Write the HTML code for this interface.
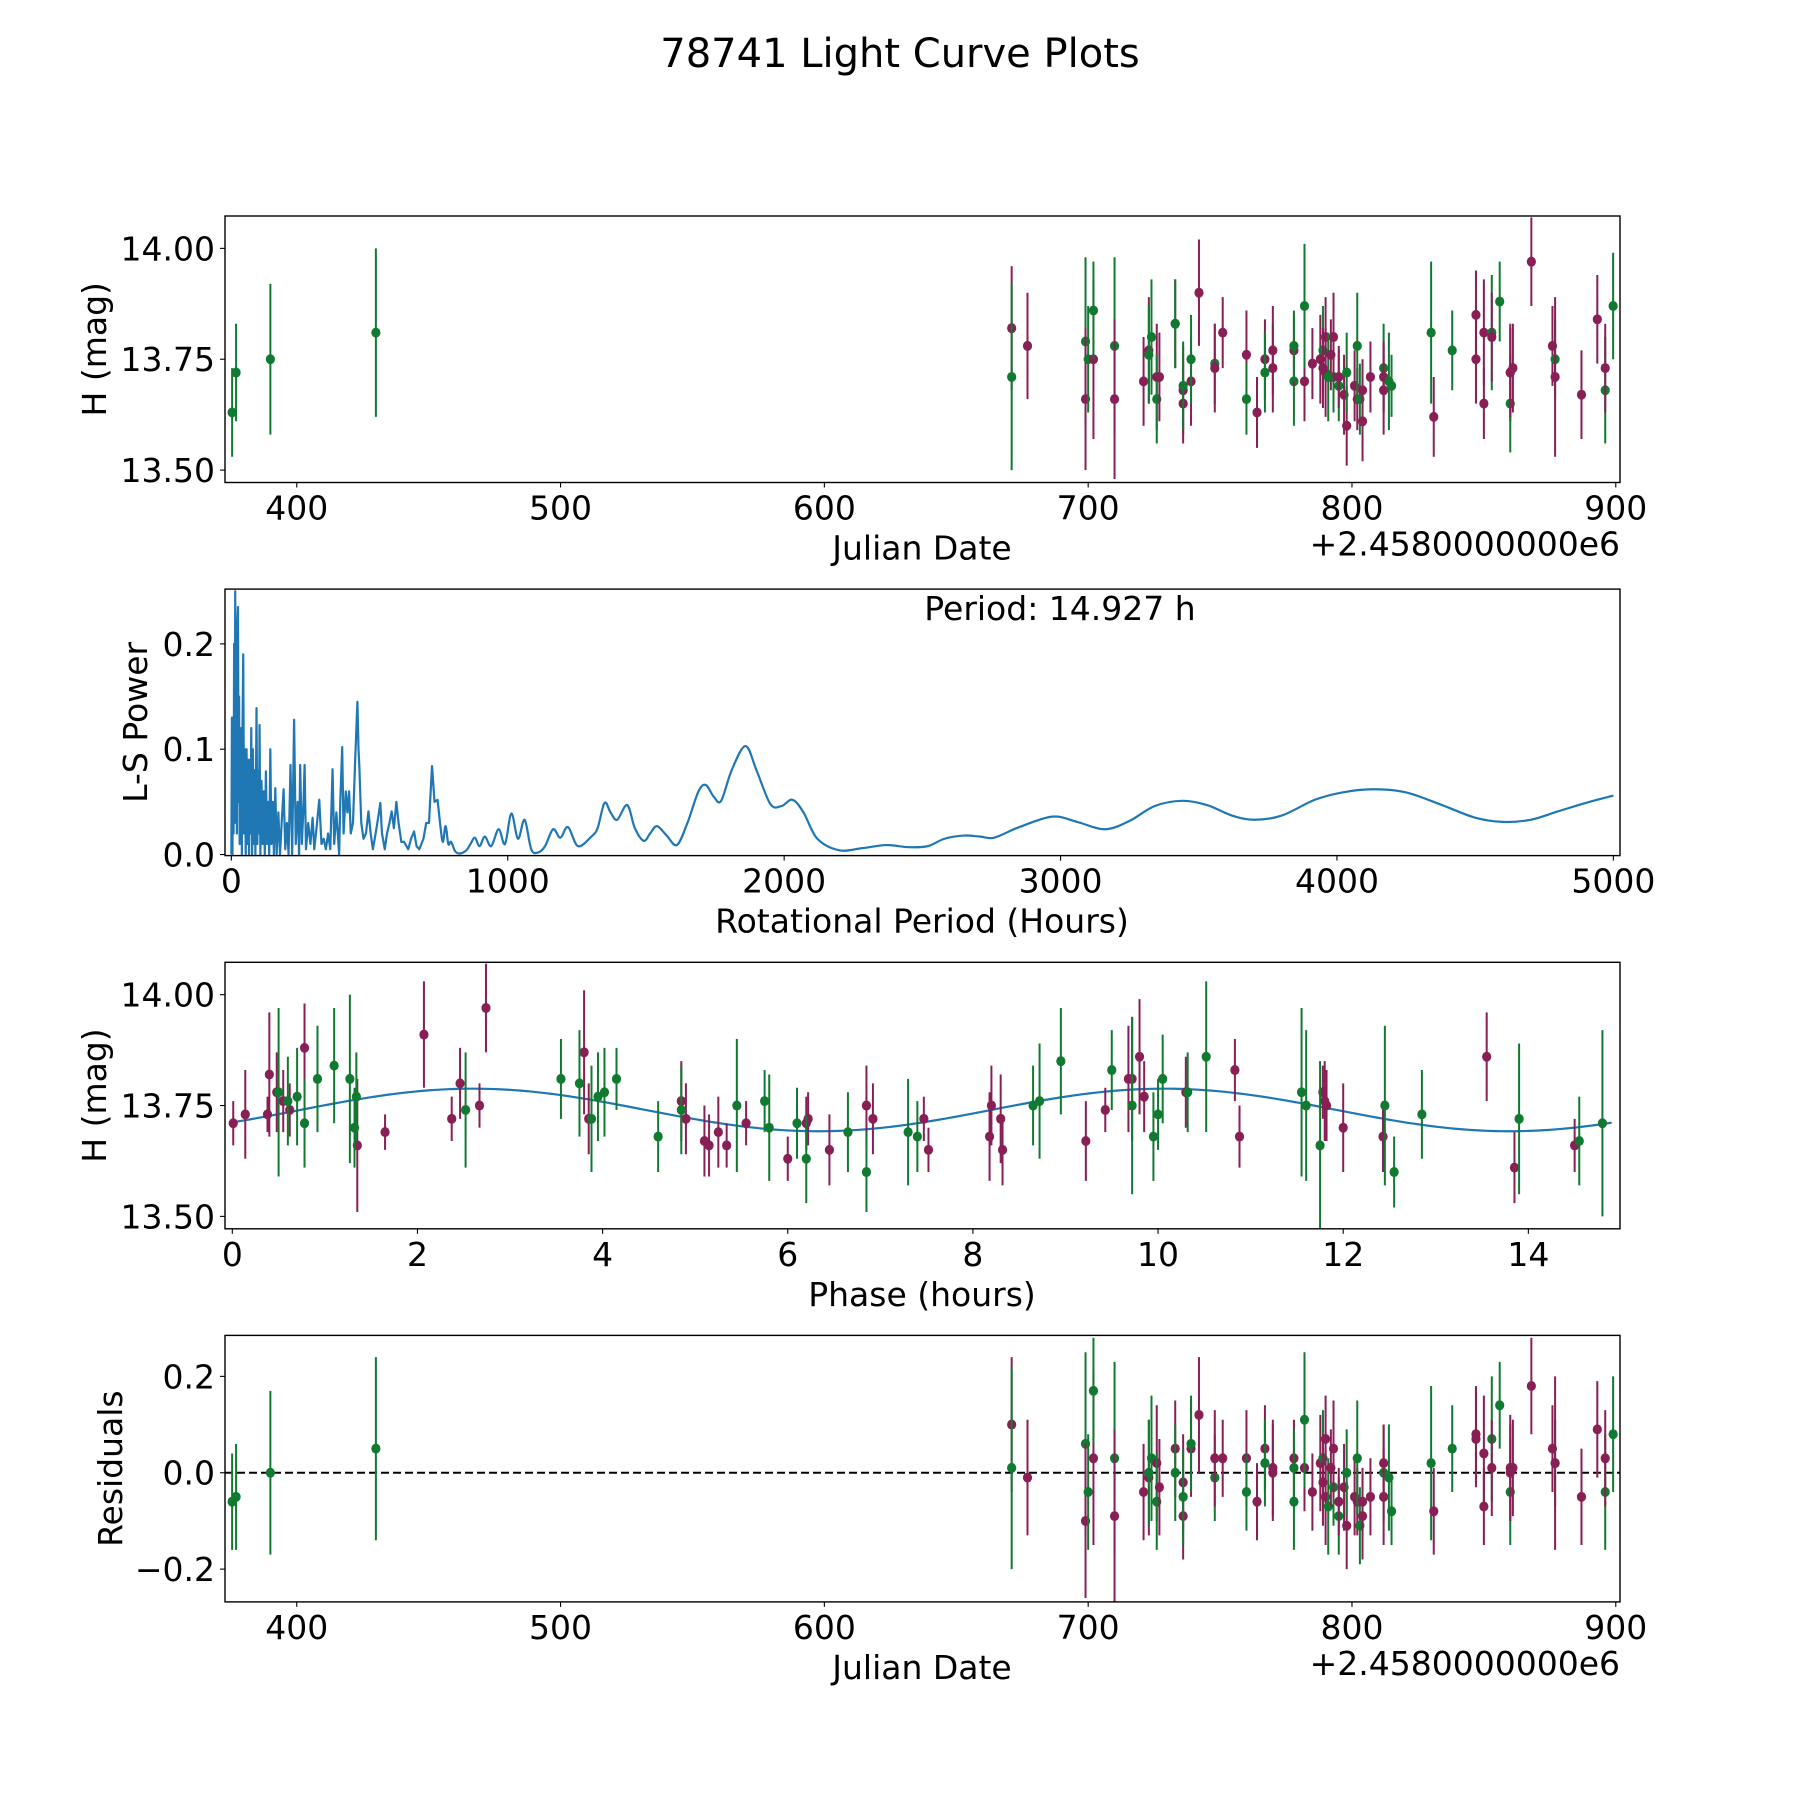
<!DOCTYPE html>
<html><head><meta charset="utf-8">
<style>
html,body{margin:0;padding:0;background:#fff}
svg{display:block;font-family:"DejaVu Sans","Liberation Sans",sans-serif}
</style></head>
<body>
<svg id="fig" width="1800" height="1800" viewBox="0 0 1800 1800" xmlns="http://www.w3.org/2000/svg">
<rect width="1800" height="1800" fill="#fff"/>
<text x="900" y="67" text-anchor="middle" font-size="40">78741 Light Curve Plots</text>
</svg>
<script>
// ---- Panel 1: light curve (JD offset from 2458000) ----
const lcJD = [375.5,377,390,430,671,671,677,699,699,700,702,702,710,710,721,723,723,724,726,726,727,733,733,736,736,736,739,739,742,748,748,751,760,760,764,767,767,770,770,778,778,778,782,782,785,788,789,789,790,790,791,792,793,793,795,795,797,798,798,801,802,802,803,804,804,807,812,812,812,814,815,830,831,838,847,847,850,850,853,853,856,860,860,860,861,868,876,877,877,887,893,896,896,899];
const lcH = [13.63,13.72,13.75,13.81,13.82,13.71,13.78,13.79,13.66,13.75,13.75,13.86,13.78,13.66,13.70,13.77,13.76,13.80,13.71,13.66,13.71,13.83,13.83,13.68,13.65,13.69,13.70,13.75,13.90,13.74,13.73,13.81,13.76,13.66,13.63,13.75,13.72,13.77,13.73,13.70,13.77,13.78,13.70,13.87,13.74,13.75,13.77,13.73,13.80,13.72,13.71,13.76,13.71,13.80,13.69,13.71,13.67,13.60,13.72,13.69,13.66,13.78,13.66,13.68,13.61,13.71,13.73,13.71,13.68,13.70,13.69,13.81,13.62,13.77,13.85,13.75,13.81,13.65,13.81,13.80,13.88,13.72,13.65,13.72,13.73,13.97,13.78,13.75,13.71,13.67,13.84,13.68,13.73,13.87];
const lcErr = [0.10,0.11,0.17,0.19,0.14,0.21,0.12,0.19,0.16,0.12,0.18,0.11,0.20,0.18,0.10,0.12,0.11,0.13,0.12,0.10,0.10,0.10,0.10,0.10,0.09,0.10,0.10,0.10,0.12,0.09,0.10,0.08,0.10,0.08,0.08,0.09,0.09,0.10,0.10,0.10,0.08,0.08,0.09,0.14,0.08,0.10,0.10,0.09,0.09,0.10,0.10,0.08,0.08,0.10,0.08,0.07,0.09,0.09,0.09,0.08,0.07,0.12,0.08,0.07,0.09,0.08,0.10,0.08,0.10,0.11,0.07,0.16,0.09,0.09,0.10,0.10,0.12,0.08,0.13,0.10,0.09,0.11,0.11,0.10,0.10,0.10,0.09,0.09,0.18,0.10,0.10,0.12,0.10,0.12];
const lcBand = "gggg" + "mgmgmgmggmmmggmgmmgmmgmgmgmmmgmmgmmgmgmgmmgmmmgmgmgmmmgmmggmmmgmmgggmgmmmmgmgmgmmmmgmmmgmgmgm";
const resid = [-0.06,-0.05,0.0,0.05,0.10,0.01,-0.01,0.06,-0.10,-0.04,0.03,0.17,0.03,-0.09,-0.04,-0.01,0.0,0.03,0.02,-0.06,-0.03,0.05,0.0,-0.02,-0.09,-0.05,0.05,0.06,0.12,-0.01,0.03,0.03,0.03,-0.04,-0.06,0.05,0.02,0.01,0.0,-0.06,0.03,0.01,0.01,0.11,-0.04,0.02,0.03,-0.02,0.07,-0.05,-0.07,0.01,-0.03,0.05,-0.09,-0.06,-0.03,-0.11,0.0,-0.05,-0.06,0.03,-0.11,-0.06,-0.09,-0.05,0.0,0.02,-0.05,-0.01,-0.08,0.02,-0.08,0.05,0.07,0.08,0.04,-0.07,0.07,0.01,0.14,0.01,-0.04,0.0,0.01,0.18,0.05,0.02,0.02,-0.05,0.09,-0.04,0.03,0.08];

// ---- Panel 2: periodogram ----
const lsPeriod = [0,2,4,6,8,10,12,14,16,18,20,22,24,26,28,30,32,34,36,38,40,43,46,49,52,55,58,61,64,67,70,72,75,78,81,84,87,91,94,97,100,102,105,109,113,117,121,125,129,133,137,141,145,150,154,159,164,170,176,182,189,195,201,207,214,220,227,233,240,245,249,255,260,265,270,278,286,294,300,310,318,326,334,342,350,358,366,372,380,390,394,401,406,414,420,426,432,440,448,456,460,463,470,478,487,496,504,512,522,531,539,545,555,563,572,580,588,597,605,615,625,640,650,661,670,680,695,705,715,726,735,746,755,765,775,785,795,810,827,850,865,881,898,917,940,967,990,1013,1037,1061,1085,1110,1135,1164,1190,1218,1254,1302,1325,1350,1372,1396,1432,1460,1492,1515,1540,1575,1612,1650,1690,1717,1745,1772,1810,1860,1900,1950,1990,2030,2070,2120,2200,2280,2370,2450,2520,2580,2650,2710,2760,2850,2970,3060,3160,3250,3340,3440,3530,3620,3700,3800,3920,4020,4130,4250,4380,4500,4600,4700,4800,4900,5000];
const lsPower = [0.0,0.13,0.0,0.13,0.02,0.2,0.03,0.25,0.05,0.13,0.02,0.22,0.235,0.05,0.15,0.01,0.1,0.03,0.12,0.0,0.11,0.19,0.02,0.1,0.0,0.1,0.01,0.09,0.0,0.09,0.02,0.12,0.0,0.1,0.01,0.08,0.0,0.139,0.01,0.08,0.02,0.123,0.0,0.07,0.01,0.06,0.0,0.079,0.01,0.05,0.0,0.1,0.01,0.05,0.0,0.063,0.0,0.04,0.0,0.03,0.062,0.005,0.03,0.0,0.085,0.0,0.128,0.01,0.05,0.0,0.085,0.01,0.04,0.085,0.005,0.03,0.01,0.035,0.005,0.03,0.052,0.01,0.015,0.005,0.02,0.005,0.081,0.01,0.04,0.0,0.05,0.102,0.02,0.06,0.04,0.06,0.02,0.03,0.09,0.145,0.1,0.084,0.03,0.015,0.02,0.041,0.02,0.005,0.02,0.035,0.049,0.02,0.005,0.02,0.03,0.041,0.025,0.05,0.03,0.012,0.012,0.005,0.015,0.022,0.008,0.005,0.015,0.03,0.03,0.084,0.05,0.052,0.03,0.012,0.027,0.01,0.012,0.003,0.001,0.004,0.01,0.016,0.008,0.017,0.008,0.024,0.01,0.039,0.015,0.033,0.005,0.002,0.008,0.024,0.016,0.026,0.008,0.017,0.025,0.049,0.04,0.033,0.047,0.025,0.013,0.02,0.027,0.018,0.009,0.03,0.06,0.066,0.055,0.051,0.08,0.103,0.08,0.048,0.046,0.052,0.04,0.015,0.004,0.006,0.009,0.007,0.008,0.015,0.018,0.017,0.016,0.026,0.036,0.031,0.024,0.032,0.046,0.051,0.047,0.037,0.033,0.037,0.052,0.059,0.062,0.059,0.047,0.035,0.031,0.033,0.041,0.049,0.056];

// ---- Panel 3: phased ----
const phX = [0.01,0.14,0.38,0.40,0.48,0.55,0.62,0.78,1.35,1.65,2.07,2.37,2.46,2.67,2.74,3.80,3.85,4.85,4.90,5.10,5.15,5.25,5.34,5.55,6.00,6.20,6.22,6.45,6.85,6.92,7.47,7.52,8.18,8.20,8.30,8.32,9.22,9.43,9.68,9.72,9.80,9.85,10.30,10.83,10.88,11.78,11.80,11.82,12.00,12.43,13.55,13.85,14.50,
 0.50,0.60,0.70,0.78,0.92,1.10,1.27,1.34,1.32,2.52,3.55,3.75,3.88,3.95,4.02,4.15,4.60,4.85,5.45,5.75,5.80,6.10,6.20,6.65,6.85,7.30,7.40,8.65,8.72,8.95,9.50,9.72,9.95,10.00,10.05,10.32,10.52,11.55,11.60,11.75,12.45,12.55,12.85,13.90,14.55,14.80];
const phH = [13.71,13.73,13.73,13.82,13.78,13.76,13.74,13.88,13.66,13.69,13.91,13.72,13.80,13.75,13.97,13.87,13.72,13.76,13.72,13.67,13.66,13.69,13.66,13.71,13.63,13.71,13.72,13.65,13.75,13.72,13.72,13.65,13.68,13.75,13.72,13.65,13.67,13.74,13.81,13.81,13.86,13.77,13.78,13.83,13.68,13.78,13.76,13.75,13.70,13.68,13.86,13.61,13.66,
 13.78,13.76,13.77,13.71,13.81,13.84,13.81,13.77,13.70,13.74,13.81,13.80,13.72,13.77,13.78,13.81,13.68,13.74,13.75,13.76,13.70,13.71,13.63,13.69,13.60,13.69,13.68,13.75,13.76,13.85,13.83,13.75,13.68,13.73,13.81,13.78,13.86,13.78,13.75,13.66,13.75,13.60,13.73,13.72,13.67,13.71];
const phErr = [0.05,0.10,0.04,0.14,0.09,0.07,0.06,0.10,0.15,0.04,0.12,0.05,0.08,0.05,0.10,0.14,0.08,0.09,0.08,0.08,0.07,0.08,0.05,0.05,0.05,0.06,0.06,0.08,0.09,0.08,0.05,0.05,0.10,0.09,0.10,0.08,0.09,0.05,0.12,0.14,0.13,0.08,0.08,0.07,0.07,0.06,0.09,0.08,0.10,0.08,0.10,0.08,0.06,
 0.19,0.10,0.11,0.10,0.12,0.13,0.19,0.10,0.09,0.13,0.09,0.12,0.12,0.10,0.10,0.07,0.08,0.10,0.15,0.07,0.12,0.08,0.10,0.09,0.09,0.12,0.08,0.09,0.13,0.12,0.09,0.20,0.10,0.08,0.10,0.09,0.17,0.19,0.17,0.19,0.18,0.08,0.10,0.17,0.10,0.21];
const phBand = "m".repeat(53) + "g".repeat(47);
// fitted model parameters: [mean, amplitude, peak phase (h), half period (h)]
const modelParams = [13.74, 0.048, 2.6, 7.4635];

// ---- tick arrays ----
const jdTicks = [400,500,600,700,800,900];
const magTicks = [14.00,13.75,13.50];
const magTickLabels = ["14.00","13.75","13.50"];
const lsXTicks = [0,1000,2000,3000,4000,5000];
const lsYTicks = [0.0,0.1,0.2];
const phTicks = [0,2,4,6,8,10,12,14];
const resTicks = [0.2,0.0,-0.2];
const resTickLabels = ["0.2","0.0","\u22120.2"];

const NS = "http://www.w3.org/2000/svg";
const svg = document.getElementById('fig');
const GREEN = "#117a31", MAROON = "#881f55", BLUE = "#1f77b4";
const FS = 33;
const L = 225, R = 1620, H = 266.5;
const tops = [216, 589.1, 962.3, 1335.4];

function mk(tag, attrs, parent){const e=document.createElementNS(NS,tag);for(const k in attrs)e.setAttribute(k,attrs[k]);(parent||svg).appendChild(e);return e;}
function scale(d0,d1,r0,r1){return v=>r0+(v-d0)/(d1-d0)*(r1-r0);}

function axes(i, xd, yd, name){
  const g = mk('g',{});
  
  
  const t = tops[i], b = t+H;
  return {g, x:scale(xd[0],xd[1],L,R), y:scale(yd[0],yd[1],b,t), t, b};
}
function frame(ax){
  const r = mk('rect',{x:L,y:ax.t,width:R-L,height:H,fill:'none',stroke:'#000','stroke-width':1.4},ax.g);
  
  
}
function xticks(ax, vals, labels, name){
  vals.forEach((v,k)=>{
    const X = ax.x(v);
    mk('line',{x1:X,x2:X,y1:ax.b,y2:ax.b+5,stroke:'#000','stroke-width':1.1},ax.g);
    const tx = mk('text',{x:X,y:ax.b+37,'text-anchor':'middle','font-size':FS},ax.g);
    tx.textContent = labels ? labels[k] : String(v);
    
    
  });
}
function yticks(ax, vals, labels, name){
  vals.forEach((v,k)=>{
    const Y = ax.y(v);
    mk('line',{x1:L-5,x2:L,y1:Y,y2:Y,stroke:'#000','stroke-width':1.1},ax.g);
    const tx = mk('text',{x:L-10,y:Y+12,'text-anchor':'end','font-size':FS},ax.g);
    tx.textContent = labels[k];
    
    
  });
}
function label(ax, txt, x, y, rot, name, anchor){
  const tx = mk('text',{x:x,y:y,'text-anchor':anchor||'middle','font-size':FS},ax.g);
  if(rot) tx.setAttribute('transform',`rotate(-90 ${x} ${y})`);
  tx.textContent = txt;
  
  
}
function errpoints(ax, xs, ys, es, bands, name){
  const clip = 'clip'+name;
  const cp = mk('clipPath',{id:clip},ax.g);
  mk('rect',{x:L,y:ax.t,width:R-L,height:H},cp);
  const g = mk('g',{'clip-path':`url(#${clip})`},ax.g);
  xs.forEach((xv,k)=>{
    const c = bands[k]==='g'?GREEN:MAROON;
    const X = ax.x(xv);
    const ln = mk('line',{x1:X,x2:X,y1:ax.y(ys[k]-es[k]),y2:ax.y(ys[k]+es[k]),stroke:c,'stroke-width':2},g);
    
    
    const dot = mk('ellipse',{cx:X,cy:ax.y(ys[k]),rx:4.6,ry:5,fill:c},g);
    
    
  });
}

// Panel 1
const jdDom=[372.8,901.6];
const a1 = axes(0, jdDom, [13.472,14.073], 'light-curve-panel');
errpoints(a1, lcJD, lcH, lcErr, lcBand, 'lc');
frame(a1);
xticks(a1, jdTicks, null, 'jd-x');
yticks(a1, magTicks, magTickLabels, 'mag-y');
label(a1, 'Julian Date', 922, a1.b+77, false, 'x-axis-title-julian-date');
label(a1, '+2.4580000000e6', 1620, a1.b+73, false, 'x-axis-offset', 'end');
label(a1, 'H (mag)', 106, (a1.t+a1.b)/2, true, 'y-axis-title-h-mag');

// Panel 2
const a2 = axes(1, [-23,5024], [-0.001,0.252], 'periodogram-panel');
{
  const cp = mk('clipPath',{id:'clipls'},a2.g);
  mk('rect',{x:L,y:a2.t,width:R-L,height:H},cp);
  const pts = lsPeriod.map((p,k)=>[a2.x(p),a2.y(lsPower[k])]);
  let d = `M${pts[0][0]},${pts[0][1]}`;
  for(let k=0;k<pts.length-1;k++){
    const p0=pts[Math.max(0,k-1)],p1=pts[k],p2=pts[k+1],p3=pts[Math.min(pts.length-1,k+2)];
    const dense = lsPeriod[k+1] < 760;
    if(dense){ d+=` L${p2[0]},${p2[1]}`; continue; }
    const c1=[p1[0]+(p2[0]-p0[0])/6, p1[1]+(p2[1]-p0[1])/6];
    const c2=[p2[0]-(p3[0]-p1[0])/6, p2[1]-(p3[1]-p1[1])/6];
    d+=` C${c1[0]},${Math.min(c1[1],a2.b)} ${c2[0]},${Math.min(c2[1],a2.b)} ${p2[0]},${p2[1]}`;
  }
  const path = mk('path',{d:d,fill:'none',stroke:BLUE,'stroke-width':2.2,'stroke-linejoin':'round','clip-path':'url(#clipls)'},a2.g);
  
  
}
frame(a2);
xticks(a2, lsXTicks, null, 'period-x');
yticks(a2, lsYTicks, ["0.0","0.1","0.2"], 'power-y');
label(a2, 'Rotational Period (Hours)', 922, a2.b+77, false, 'x-axis-title-rotational-period');
label(a2, 'L-S Power', 147, (a2.t+a2.b)/2, true, 'y-axis-title-ls-power');
label(a2, 'Period: 14.927 h', 1060, a2.t+31, false, 'period-annotation');

// Panel 3
const a3 = axes(2, [-0.079,14.99], [13.472,14.073], 'phase-panel');
{
  const cp = mk('clipPath',{id:'clipph'},a3.g);
  mk('rect',{x:L,y:a3.t,width:R-L,height:H},cp);
  let d='';
  const n=300;
  for(let k=0;k<=n;k++){
    const ph = phTicks[0] + (14.9-phTicks[0])*k/n;
    const v = modelParams[0] + modelParams[1]*Math.cos(2*Math.PI*(ph-modelParams[2])/modelParams[3]);
    d += (k?' L':'M') + a3.x(ph) + ',' + a3.y(v);
  }
  const path = mk('path',{d:d,fill:'none',stroke:BLUE,'stroke-width':2.2,'clip-path':'url(#clipph)'},a3.g);
  
  
}
errpoints(a3, phX, phH, phErr, phBand, 'phase');
frame(a3);
xticks(a3, phTicks, null, 'phase-x');
yticks(a3, magTicks, magTickLabels, 'phase-mag-y');
label(a3, 'Phase (hours)', 922, a3.b+77, false, 'x-axis-title-phase');
label(a3, 'H (mag)', 106, (a3.t+a3.b)/2, true, 'y-axis-title-phase-h-mag');

// Panel 4
const a4 = axes(3, jdDom, [-0.268,0.285], 'residuals-panel');
{
  const zl = mk('line',{x1:L,x2:R,y1:a4.y(0),y2:a4.y(0),stroke:'#000','stroke-width':2,'stroke-dasharray':'8,4'},a4.g);
  
  
}
errpoints(a4, lcJD, resid, lcErr, lcBand, 'resid');
frame(a4);
xticks(a4, jdTicks, null, 'resid-jd-x');
yticks(a4, resTicks, resTickLabels, 'resid-y');
label(a4, 'Julian Date', 922, a4.b+77, false, 'x-axis-title-resid-julian-date');
label(a4, '+2.4580000000e6', 1620, a4.b+73, false, 'x-axis-offset-resid', 'end');
label(a4, 'Residuals', 122, (a4.t+a4.b)/2, true, 'y-axis-title-residuals');
</script>
</body></html>
